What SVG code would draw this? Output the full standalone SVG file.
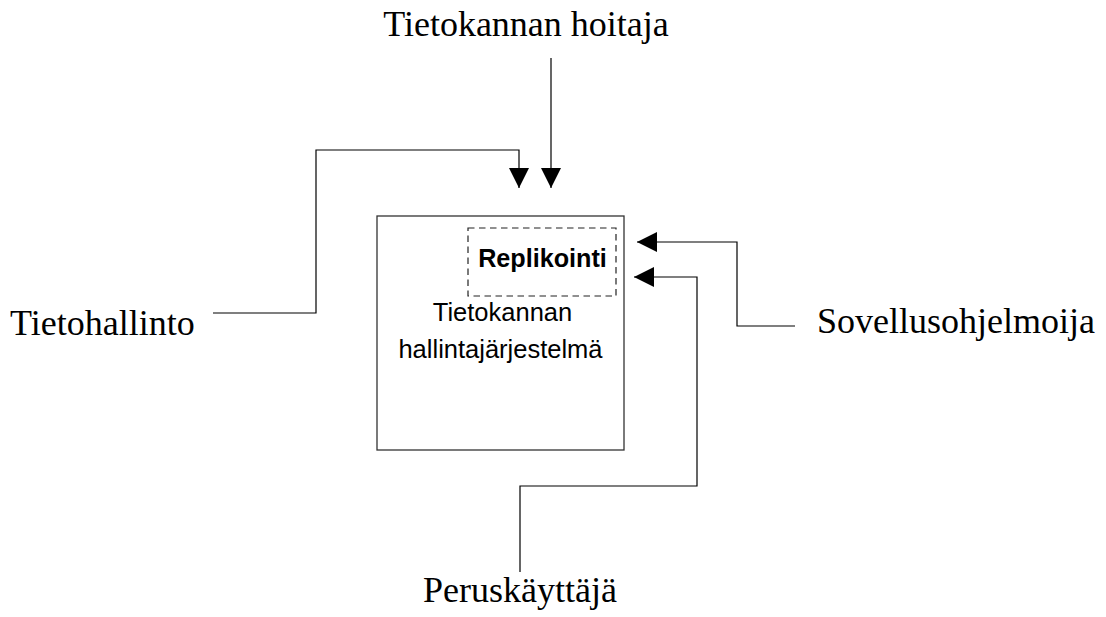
<svg xmlns="http://www.w3.org/2000/svg" width="1106" height="617" viewBox="0 0 1106 617">
  <style>
    .serif { font-family: "Liberation Serif", "Times New Roman", serif; font-size: 36px; fill: #000; }
    .sans { font-family: "Liberation Sans", Arial, sans-serif; font-size: 25.5px; fill: #000; }
    .bold { font-weight: bold; font-size: 25.2px; }
    .wire { fill: none; stroke: #000; stroke-width: 1.2; }
    .frame { fill: #fff; stroke: #333; stroke-width: 1.3; }
    .dash { fill: none; stroke: #222; stroke-width: 1.2; stroke-dasharray: 6.5 4.5; }
  </style>
  <defs>
    <marker id="arrow" viewBox="0 0 20 20" refX="20" refY="10" markerWidth="20" markerHeight="20" markerUnits="userSpaceOnUse" orient="auto">
      <path d="M0,0 L20,10 L0,20 Z" fill="#000"/>
    </marker>
  </defs>
  <rect width="1106" height="617" fill="#fff"/>

  <!-- database management system -->
  <g id="dbms">
    <rect class="frame" x="377" y="216" width="247" height="234"/>
    <text class="sans" x="502.5" y="321" text-anchor="middle">Tietokannan</text>
    <text class="sans" x="500.5" y="357.5" text-anchor="middle">hallintajärjestelmä</text>
  </g>

  <g id="replikointi">
    <rect class="dash" x="468" y="228" width="148" height="68"/>
    <text class="sans bold" x="542.5" y="267" text-anchor="middle">Replikointi</text>
  </g>

  <!-- roles -->
  <g id="hoitaja">
    <text class="serif" x="526" y="36" text-anchor="middle">Tietokannan hoitaja</text>
  </g>
  <g id="tietohallinto">
    <text class="serif" x="10" y="335">Tietohallinto</text>
  </g>
  <g id="sovellusohjelmoija">
    <text class="serif" x="817" y="333">Sovellusohjelmoija</text>
  </g>
  <g id="peruskayttaja">
    <text class="serif" x="520" y="602" text-anchor="middle">Peruskäyttäjä</text>
  </g>

  <!-- connectors -->
  <g id="connectors">
    <path class="wire" d="M213,313 H316 V150 H519 V188" marker-end="url(#arrow)"/>
    <path class="wire" d="M551,58 V188" marker-end="url(#arrow)"/>
    <path class="wire" d="M795,326 H737 V242 H637" marker-end="url(#arrow)"/>
    <path class="wire" d="M520,572 V486 H697 V277 H634" marker-end="url(#arrow)"/>
  </g>
</svg>
